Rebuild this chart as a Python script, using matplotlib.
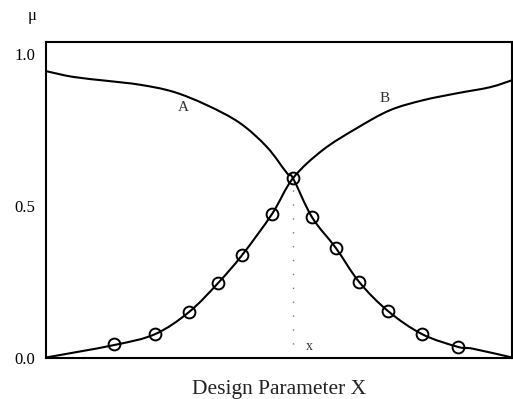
import matplotlib
matplotlib.use("Agg")
import matplotlib.pyplot as plt
from matplotlib.path import Path
from matplotlib.patches import PathPatch

# Membership curve A (falls from left to right)
a_x = [0.0, 0.58, 1.31, 2.02, 2.73, 3.45, 4.16, 4.74, 5.17, 5.30,
       5.71, 6.22, 6.72, 7.34, 8.07, 8.84, 9.16, 10.0]
a_y = [0.944, 0.925, 0.912, 0.899, 0.876, 0.832, 0.773, 0.694, 0.608, 0.591,
       0.462, 0.361, 0.249, 0.153, 0.077, 0.035, 0.029, 0.0]

# Membership curve B (rises from left to right)
b_x = [0.0, 1.46, 2.34, 3.07, 3.69, 4.21, 4.85, 5.30,
       5.94, 6.67, 7.38, 8.09, 8.82, 9.53, 10.0]
b_y = [0.0, 0.041, 0.077, 0.150, 0.245, 0.338, 0.473, 0.591,
       0.684, 0.756, 0.815, 0.848, 0.871, 0.891, 0.914]

# Sampled points on the lower envelope
pts_x = [1.46, 2.34, 3.07, 3.69, 4.21, 4.85, 5.30,
         5.71, 6.22, 6.72, 7.34, 8.07, 8.84]
pts_y = [0.044, 0.077, 0.150, 0.245, 0.338, 0.473, 0.591,
         0.462, 0.361, 0.249, 0.153, 0.077, 0.035]

# Crossing point of A and B
x_star = 5.30
mu_star = 0.591

y_ticks = [0.0, 0.5, 1.0]
y_tick_labels = ["0.0", "0.5", "1.0"]

serif = "Liberation Serif"


def smooth_path(xs, ys):
    """Cubic Bezier path through the given points (Catmull-Rom tangents)."""
    n = len(xs)
    verts = [(xs[0], ys[0])]
    codes = [Path.MOVETO]
    for i in range(n - 1):
        x0, y0 = xs[max(i - 1, 0)], ys[max(i - 1, 0)]
        x1, y1 = xs[i], ys[i]
        x2, y2 = xs[i + 1], ys[i + 1]
        x3, y3 = xs[min(i + 2, n - 1)], ys[min(i + 2, n - 1)]
        c1 = (x1 + (x2 - x0) / 6.0, y1 + (y2 - y0) / 6.0)
        c2 = (x2 - (x3 - x1) / 6.0, y2 - (y3 - y1) / 6.0)
        verts += [c1, c2, (x2, y2)]
        codes += [Path.CURVE4, Path.CURVE4, Path.CURVE4]
    return Path(verts, codes)


fig = plt.figure(figsize=(5.13, 3.99), dpi=100)
ax = fig.add_axes([46 / 513, 1 - 357.5 / 399, 466 / 513, 315.5 / 399])

for xs, ys in ((a_x, a_y), (b_x, b_y)):
    ax.add_patch(PathPatch(smooth_path(xs, ys), facecolor="none",
                           edgecolor="black", lw=1.5, capstyle="round"))

ax.plot(pts_x, pts_y, linestyle="none", marker="o", ms=8.5,
        mfc="none", mec="black", mew=1.4)

ax.plot([x_star, x_star], [0, mu_star], color="#777777", lw=1.0,
        linestyle=(0, (1, 9)))

ax.text(2.94, 0.825, "A", family=serif, fontsize=11, ha="center",
        va="center", color="#333333")
ax.text(7.27, 0.855, "B", family=serif, fontsize=11, ha="center",
        va="center", color="#333333")
ax.text(5.65, 0.035, "x", family=serif, fontsize=10, ha="center",
        va="center", color="#333333")

ax.set_xlim(0, 10)
ax.set_ylim(0, 1.04)
ax.set_xticks([])
ax.set_yticks(y_ticks)
ax.set_yticklabels(y_tick_labels, family=serif, fontsize=12)
ax.tick_params(axis="y", length=0, pad=8)

for s in ax.spines.values():
    s.set_linewidth(1.5)
    s.set_color("black")

ax.set_xlabel("Design Parameter X", family=serif, fontsize=15.5,
              color="#222222", labelpad=16)
fig.text(32 / 513, 1 - 16 / 399, "μ", family=serif, fontsize=12,
         ha="center", va="center")

fig.savefig("out.png", dpi=100)
